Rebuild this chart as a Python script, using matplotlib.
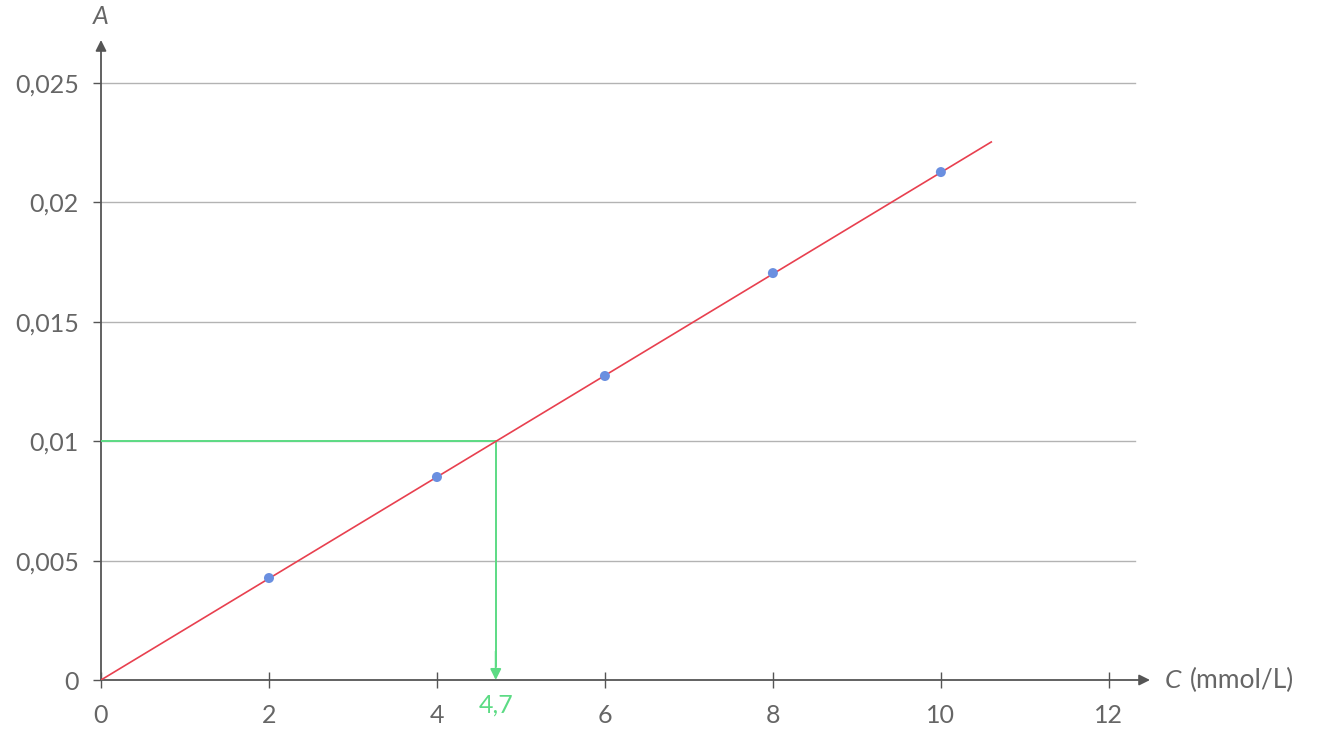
"""Calibration curve: absorbance A vs concentration C."""

import matplotlib
matplotlib.use('Agg')
import numpy as np
import matplotlib.pyplot as plt

plt.rcParams['font.family'] = ['Lato', 'DejaVu Sans']

# ── Data ────────────────────────────────────────────────────────────────────
conc = [2, 4, 6, 8, 10]                      # mmol/L
absorb = [0.00427, 0.0085, 0.01273, 0.01704, 0.02127]
fit_x = [0, 10.6]
fit_y = [0, 0.02253]
c_read = 4.7
a_read = 0.01

x_ticks = [0, 2, 4, 6, 8, 10, 12]
y_ticks = [0, 0.005, 0.01, 0.015, 0.02, 0.025]
y_labels = ['0', '0,005', '0,01', '0,015', '0,02', '0,025']

axis_col = '#555555'
text_col = '#666666'
grid_col = '#b3b3b3'
red = '#e8404f'
blue = '#6a8fe0'
green = '#5cdb84'

fig = plt.figure(figsize=(13.23, 7.44), dpi=100)
ax = fig.add_axes([101 / 1323, 64 / 744, 1049 / 1323, 640 / 744])
ax.set_xlim(0, 12.49)
ax.set_ylim(0, 0.0268)
for s in ax.spines.values():
    s.set_visible(False)

# grid lines
for yt in y_ticks[1:]:
    ax.plot([0, 12.31], [yt, yt], color=grid_col, lw=1, zorder=1)

# axes with arrows
ax.annotate('', xy=(12.49, 0), xytext=(0, 0), annotation_clip=False,
            arrowprops=dict(arrowstyle='-|>', color=axis_col, lw=1.3,
                            mutation_scale=16, shrinkA=0, shrinkB=0), zorder=3)
ax.annotate('', xy=(0, 0.0268), xytext=(0, 0), annotation_clip=False,
            arrowprops=dict(arrowstyle='-|>', color=axis_col, lw=1.3,
                            mutation_scale=16, shrinkA=0, shrinkB=0), zorder=3)

# reading lines
ax.plot([0, c_read, c_read], [a_read, a_read, 0.0006], color=green, lw=1.4, zorder=4)
ax.annotate('', xy=(c_read, 0), xytext=(c_read, 0.0012), annotation_clip=False,
            arrowprops=dict(arrowstyle='-|>', color=green, lw=1.4,
                            mutation_scale=16, shrinkA=0, shrinkB=0), zorder=4)

# fit and points
ax.plot(fit_x, fit_y, color=red, lw=1.2, zorder=5)
ax.scatter(conc, absorb, s=52, color=blue, zorder=6, edgecolors='none')

# ticks
ax.set_xticks(x_ticks)
ax.set_xticklabels([str(x) for x in x_ticks])
ax.set_yticks(y_ticks)
ax.set_yticklabels(y_labels)
ax.tick_params(axis='x', direction='inout', length=12, width=1, color=axis_col,
               labelcolor=text_col, labelsize=18, pad=11)
ax.tick_params(axis='y', direction='out', length=6, width=1, color=axis_col,
               labelcolor=text_col, labelsize=18, pad=10)

ax.text(c_read, -0.00105, '4,7', color=green, fontsize=18, ha='center', va='center')

# axis labels
ax.text(0, 0.0278, 'A', color=text_col, fontsize=18, style='italic', ha='center', va='center')
ax.text(12.67, 0, 'C', color=text_col, fontsize=19, style='italic', ha='left', va='center')
ax.text(12.97, 0, '(mmol/L)', color=text_col, fontsize=19, ha='left', va='center')

plt.savefig('out.png', dpi=100)
plt.close()
